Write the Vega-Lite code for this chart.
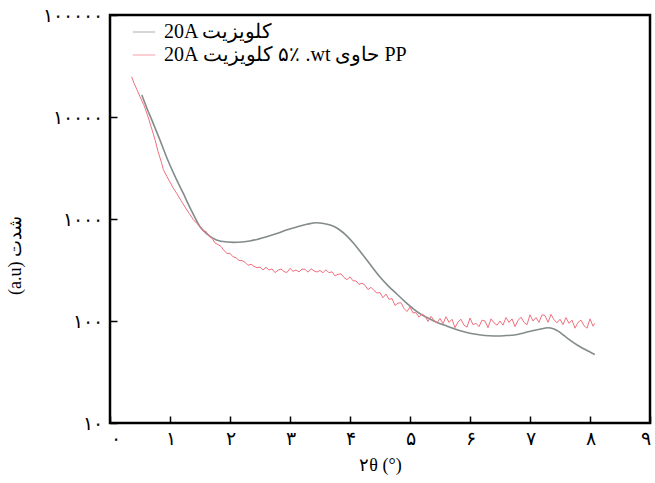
{
  "$schema": "https://vega.github.io/schema/vega-lite/v6.json",
  "width": 540,
  "height": 408,
  "autosize": "none",
  "padding": {"left": 110, "top": 15, "right": 5, "bottom": 60},
  "background": "white",
  "config": {
    "view": {"stroke": "black", "strokeWidth": 2.5},
    "font": "Liberation Serif",
    "axis": {"grid": false, "domain": false, "labelFont": "Liberation Serif", "titleFont": "Liberation Serif", "labelColor": "black", "titleColor": "black", "tickColor": "black", "tickWidth": 1.5, "labelFontSize": 19, "titleFontSize": 18, "titleFontWeight": "normal"}
  },
  "datasets": {
    "clay": [
      {"x": 0.53, "y": 16400}, {"x": 0.62, "y": 12000}, {"x": 0.72, "y": 8670}, {"x": 0.83, "y": 6000},
      {"x": 0.94, "y": 4080}, {"x": 1.08, "y": 2650}, {"x": 1.22, "y": 1790}, {"x": 1.36, "y": 1200},
      {"x": 1.5, "y": 841}, {"x": 1.61, "y": 720}, {"x": 1.72, "y": 646}, {"x": 1.85, "y": 605},
      {"x": 2.06, "y": 590}, {"x": 2.2, "y": 595}, {"x": 2.33, "y": 608}, {"x": 2.47, "y": 635},
      {"x": 2.61, "y": 670}, {"x": 2.78, "y": 722}, {"x": 2.94, "y": 780}, {"x": 3.1, "y": 832},
      {"x": 3.28, "y": 887}, {"x": 3.44, "y": 920}, {"x": 3.56, "y": 905}, {"x": 3.67, "y": 873},
      {"x": 3.75, "y": 835}, {"x": 3.83, "y": 780}, {"x": 3.95, "y": 680}, {"x": 4.06, "y": 578},
      {"x": 4.17, "y": 480}, {"x": 4.28, "y": 396}, {"x": 4.39, "y": 325}, {"x": 4.5, "y": 270},
      {"x": 4.64, "y": 220}, {"x": 4.78, "y": 184}, {"x": 4.92, "y": 154}, {"x": 5.06, "y": 131},
      {"x": 5.2, "y": 115}, {"x": 5.34, "y": 104}, {"x": 5.48, "y": 95}, {"x": 5.62, "y": 89},
      {"x": 5.76, "y": 83}, {"x": 5.9, "y": 78.5}, {"x": 6.04, "y": 75}, {"x": 6.18, "y": 73},
      {"x": 6.32, "y": 71.8}, {"x": 6.46, "y": 71.3}, {"x": 6.6, "y": 72}, {"x": 6.74, "y": 73},
      {"x": 6.88, "y": 76}, {"x": 7.02, "y": 79.8}, {"x": 7.16, "y": 83}, {"x": 7.3, "y": 85.8},
      {"x": 7.39, "y": 84}, {"x": 7.47, "y": 79.5}, {"x": 7.58, "y": 71}, {"x": 7.69, "y": 63.6},
      {"x": 7.8, "y": 57.5}, {"x": 7.92, "y": 52.5}, {"x": 8.08, "y": 47}
    ],
    "pp": [
      {"x": 0.36, "y": 24800}, {"x": 0.4, "y": 21500}, {"x": 0.45, "y": 18500}, {"x": 0.5, "y": 15800},
      {"x": 0.56, "y": 13300}, {"x": 0.6, "y": 11500}, {"x": 0.64, "y": 9800}, {"x": 0.68, "y": 8200},
      {"x": 0.72, "y": 6900}, {"x": 0.76, "y": 5700}, {"x": 0.8, "y": 4600}, {"x": 0.85, "y": 3700},
      {"x": 0.89, "y": 3050}, {"x": 0.95, "y": 2600}, {"x": 1.0, "y": 2300}, {"x": 1.05, "y": 2030},
      {"x": 1.11, "y": 1790}, {"x": 1.18, "y": 1530}, {"x": 1.25, "y": 1310}, {"x": 1.32, "y": 1130},
      {"x": 1.39, "y": 985}, {"x": 1.45, "y": 900},
      {"x": 1.5, "y": 848}, {"x": 1.55, "y": 766}, {"x": 1.6, "y": 755}, {"x": 1.65, "y": 681},
      {"x": 1.7, "y": 650}, {"x": 1.75, "y": 582}, {"x": 1.8, "y": 562}, {"x": 1.85, "y": 538},
      {"x": 1.9, "y": 491}, {"x": 1.95, "y": 459}, {"x": 2.0, "y": 461}, {"x": 2.05, "y": 426},
      {"x": 2.1, "y": 417}, {"x": 2.15, "y": 392}, {"x": 2.2, "y": 392}, {"x": 2.25, "y": 377},
      {"x": 2.3, "y": 352}, {"x": 2.35, "y": 360}, {"x": 2.4, "y": 344}, {"x": 2.45, "y": 333},
      {"x": 2.5, "y": 337}, {"x": 2.55, "y": 317}, {"x": 2.6, "y": 336}, {"x": 2.65, "y": 316},
      {"x": 2.7, "y": 324}, {"x": 2.75, "y": 298}, {"x": 2.8, "y": 315}, {"x": 2.85, "y": 323},
      {"x": 2.9, "y": 305}, {"x": 2.95, "y": 299}, {"x": 3.0, "y": 328}, {"x": 3.05, "y": 307},
      {"x": 3.1, "y": 316}, {"x": 3.15, "y": 303}, {"x": 3.2, "y": 323}, {"x": 3.25, "y": 321},
      {"x": 3.3, "y": 301}, {"x": 3.35, "y": 326}, {"x": 3.4, "y": 310}, {"x": 3.45, "y": 302},
      {"x": 3.5, "y": 313}, {"x": 3.55, "y": 297}, {"x": 3.6, "y": 318}, {"x": 3.65, "y": 297},
      {"x": 3.7, "y": 304}, {"x": 3.75, "y": 277}, {"x": 3.8, "y": 287}, {"x": 3.85, "y": 290},
      {"x": 3.9, "y": 267}, {"x": 3.95, "y": 254}, {"x": 4.0, "y": 271}, {"x": 4.05, "y": 248},
      {"x": 4.1, "y": 247}, {"x": 4.15, "y": 228}, {"x": 4.2, "y": 235}, {"x": 4.25, "y": 224},
      {"x": 4.3, "y": 203}, {"x": 4.35, "y": 214}, {"x": 4.4, "y": 199}, {"x": 4.45, "y": 188},
      {"x": 4.5, "y": 190}, {"x": 4.55, "y": 169}, {"x": 4.6, "y": 184}, {"x": 4.65, "y": 163},
      {"x": 4.7, "y": 166}, {"x": 4.75, "y": 142}, {"x": 4.8, "y": 150}, {"x": 4.85, "y": 151},
      {"x": 4.9, "y": 133}, {"x": 4.95, "y": 124}, {"x": 5.0, "y": 137}, {"x": 5.05, "y": 120},
      {"x": 5.1, "y": 121}, {"x": 5.15, "y": 109}, {"x": 5.2, "y": 117}, {"x": 5.25, "y": 112},
      {"x": 5.3, "y": 99}, {"x": 5.35, "y": 111}, {"x": 5.4, "y": 101}, {"x": 5.45, "y": 96},
      {"x": 5.5, "y": 106}, {"x": 5.55, "y": 94}, {"x": 5.6, "y": 110}, {"x": 5.65, "y": 97},
      {"x": 5.7, "y": 104}, {"x": 5.75, "y": 86}, {"x": 5.8, "y": 98}, {"x": 5.85, "y": 104},
      {"x": 5.9, "y": 91}, {"x": 5.95, "y": 87}, {"x": 6.0, "y": 107}, {"x": 6.05, "y": 92},
      {"x": 6.1, "y": 95}, {"x": 6.15, "y": 88}, {"x": 6.2, "y": 102}, {"x": 6.25, "y": 100},
      {"x": 6.3, "y": 86}, {"x": 6.35, "y": 105}, {"x": 6.4, "y": 96}, {"x": 6.45, "y": 91},
      {"x": 6.5, "y": 100}, {"x": 6.55, "y": 91}, {"x": 6.6, "y": 108}, {"x": 6.65, "y": 97},
      {"x": 6.7, "y": 105}, {"x": 6.75, "y": 88}, {"x": 6.8, "y": 101}, {"x": 6.85, "y": 109},
      {"x": 6.9, "y": 97}, {"x": 6.95, "y": 92}, {"x": 7.0, "y": 115}, {"x": 7.05, "y": 100},
      {"x": 7.1, "y": 108}, {"x": 7.15, "y": 97}, {"x": 7.2, "y": 115}, {"x": 7.25, "y": 113},
      {"x": 7.3, "y": 97}, {"x": 7.35, "y": 116}, {"x": 7.4, "y": 103}, {"x": 7.45, "y": 96},
      {"x": 7.5, "y": 104}, {"x": 7.55, "y": 92}, {"x": 7.6, "y": 108}, {"x": 7.65, "y": 95},
      {"x": 7.7, "y": 102}, {"x": 7.75, "y": 85}, {"x": 7.8, "y": 97}, {"x": 7.85, "y": 102},
      {"x": 7.9, "y": 90}, {"x": 7.95, "y": 85}, {"x": 8.0, "y": 105}, {"x": 8.05, "y": 89},
      {"x": 8.08, "y": 95}
    ]
  },
  "layer": [
    {
      "data": {"name": "clay"},
      "transform": [{"calculate": "'20A کلویزیت'", "as": "series"}],
      "mark": {"type": "line", "strokeWidth": 1.6, "interpolate": "monotone"},
      "encoding": {
        "x": {
          "field": "x", "type": "quantitative",
          "scale": {"domain": [0, 9], "nice": false, "zero": false},
          "axis": {
            "values": [0, 1, 2, 3, 4, 5, 6, 7, 8, 9],
            "title": "۲θ (°)",
            "tickSize": -7,
            "labelPadding": 13,
            "titlePadding": 8,
            "labelExpr": "['۰','۱','۲','۳','۴','۵','۶','۷','۸','۹'][datum.value]"
          }
        },
        "y": {
          "field": "y", "type": "quantitative",
          "scale": {"type": "log", "domain": [10, 100000], "nice": false},
          "axis": {
            "values": [10, 100, 1000, 10000, 100000],
            "title": "(a.u) شدت",
            "tickSize": -7,
            "labelPadding": 15,
            "titleX": -95,
            "titleY": 240,
            "titleAngle": -90,
            "titleAlign": "center",
            "titleBaseline": "middle",
            "labelExpr": "datum.value == 10 ? '۱۰' : datum.value == 100 ? '۱۰۰' : datum.value == 1000 ? '۱۰۰۰' : datum.value == 10000 ? '۱۰۰۰۰' : '۱۰۰۰۰۰'"
          }
        },
        "color": {
          "field": "series", "type": "nominal",
          "scale": {"domain": ["20A کلویزیت", "‫PP حاوی wt. ‏۵٪ کلویزیت 20A‬"], "range": ["#838b8b", "#f0707e"]},
          "legend": {
            "title": null,
            "orient": "none",
            "legendX": 22,
            "legendY": 5,
            "padding": 0,
            "symbolType": "stroke",
            "symbolSize": 500,
            "symbolStrokeWidth": 1.5,
            "symbolOpacity": 0.45,
            "labelFont": "Liberation Serif",
            "labelFontSize": 20,
            "labelColor": "black",
            "labelOffset": 8,
            "rowPadding": 1,
            "labelLimit": 450
          }
        }
      }
    },
    {
      "data": {"name": "pp"},
      "transform": [{"calculate": "'‫PP حاوی wt. ‏۵٪ کلویزیت 20A‬'", "as": "series"}],
      "mark": {"type": "line", "strokeWidth": 1},
      "encoding": {
        "x": {"field": "x", "type": "quantitative"},
        "y": {"field": "y", "type": "quantitative"},
        "color": {"field": "series", "type": "nominal"}
      }
    }
  ]
}
